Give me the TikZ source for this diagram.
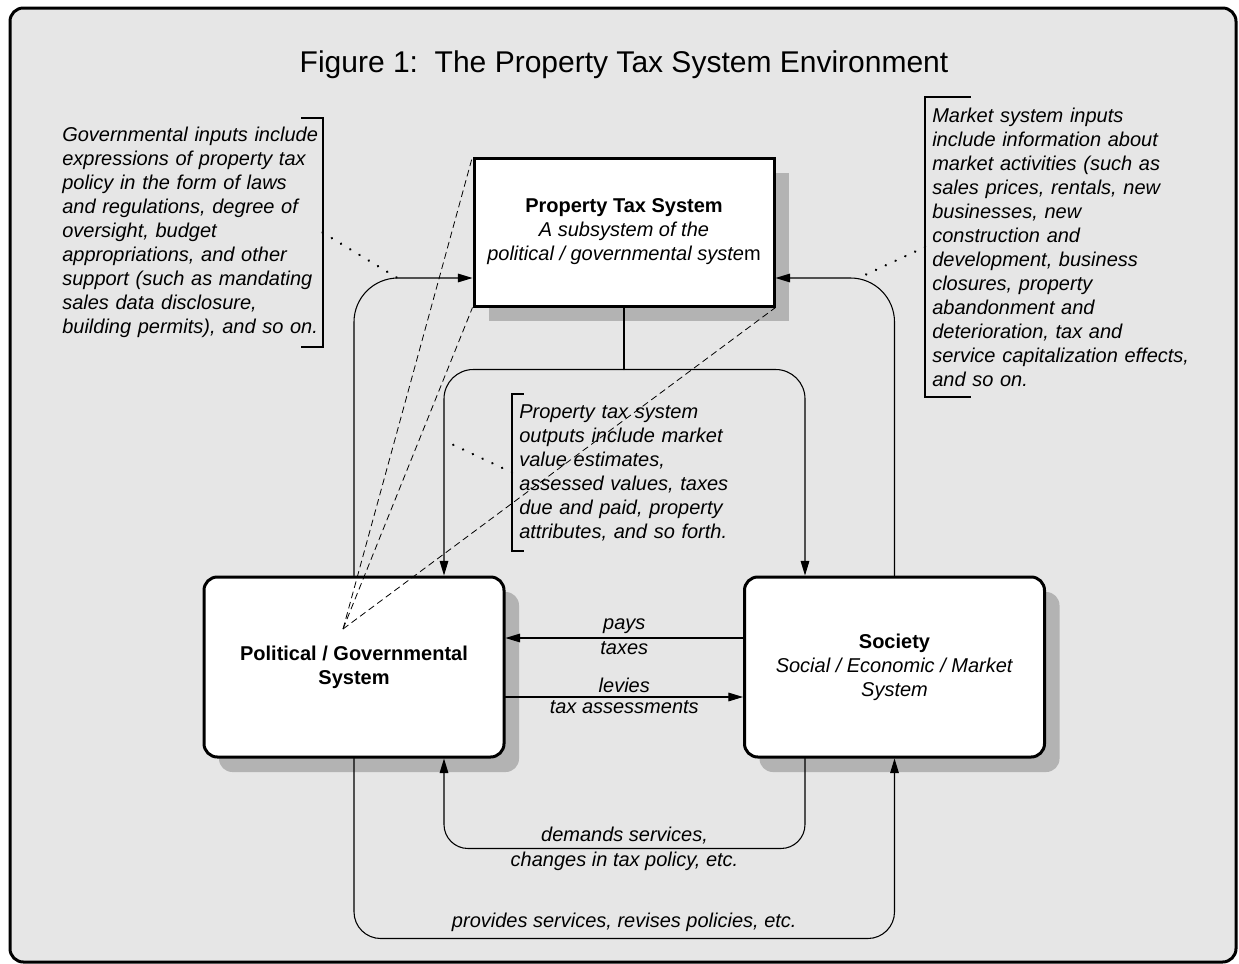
\documentclass[tikz,border=0pt]{standalone}
\usepackage{fontspec}
\setmainfont{Liberation Sans}
\usetikzlibrary{arrows.meta}
\usetikzlibrary{positioning}
\usetikzlibrary{shadows}
\usetikzlibrary{calc}
\definecolor{panelgray}{RGB}{230,230,230}
\definecolor{shadegray}{RGB}{179,179,179}

\begin{document}
\begin{tikzpicture}[x=0.75pt,y=-0.75pt,line cap=round,line join=round,
    font=\fontsize{15}{18}\selectfont,
    sysbox/.style={draw,line width=2.25pt,line join=miter,fill=white,align=center,inner sep=0pt,minimum width=225pt,
      drop shadow={shadow xshift=11.25pt,shadow yshift=-11.25pt,fill=shadegray,opacity=1}},
    flow/.style={line width=0.8pt,-{Triangle[length=11pt,width=6.5pt]}},
    link/.style={line width=0.8pt},
    note/.style={font=\fontsize{15}{18}\selectfont\itshape,align=left,inner sep=0pt},
    tag/.style={font=\fontsize{15}{18}\selectfont\itshape,inner sep=2.5pt},
    brace/.style={line width=1.5pt,line cap=rect,line join=miter},
    dots/.style={line width=1.9pt,dash pattern=on 0.1pt off 8pt},
    cone/.style={line width=0.6pt,line cap=butt,dash pattern=on 5pt off 3pt}]
\useasboundingbox (0,0) rectangle (1239,964);
\draw[line width=2.25pt,fill=panelgray,rounded corners=10pt] (10,8) rectangle (1236,962);
\node[font=\fontsize{22.5}{27}\selectfont] (title) at (624,65) {Figure 1:\ \ The Property Tax System Environment};

\node[sysbox,minimum height=111pt] (pts) at (624,232) {\textbf{Property Tax System}\\\textit{A subsystem of the}\\\textit{political / governmental syste}m};
\node[sysbox,rounded corners=10pt,minimum height=135pt] (pol) at (354,667) {\textbf{Political / Governmental}\\\textbf{System}};
\node[sysbox,rounded corners=10pt,minimum height=135pt] (soc) at (894.5,667) {\textbf{Society}\\\textit{Social / Economic / Market}\\\textit{System}};

\node[note,anchor=west,text width=192pt,inner xsep=3pt,minimum height=171.75pt] (govnote) at (58,232.5)
  {Governmental inputs include\\expressions of property tax\\policy in the form of laws\\and regulations, degree of\\oversight, budget\\appropriations, and other\\support (such as mandating\\sales data disclosure,\\building permits), and so on.};
\node[note,anchor=west,text width=205pt,inner xsep=5.25pt,minimum height=225pt] (mktnote) at (925,247)
  {Market system inputs\\include information about\\market activities (such as\\sales prices, rentals, new\\businesses, new\\construction and\\development, business\\closures, property\\abandonment and\\deterioration, tax and\\service capitalization effects,\\and so on.};
\node[note,anchor=west,text width=165pt,inner xsep=5.25pt,minimum height=117.75pt] (outnote) at (512,472.5)
  {Property tax system\\outputs include market\\value estimates,\\assessed values, taxes\\due and paid, property\\attributes, and so forth.};

\draw[brace] ([xshift=-15.75pt]govnote.north east) -- (govnote.north east) -- (govnote.south east) -- ([xshift=-15.75pt]govnote.south east);
\draw[brace] ([xshift=33.75pt]mktnote.north west) -- (mktnote.north west) -- (mktnote.south west) -- ([xshift=33.75pt]mktnote.south west);
\draw[brace] ([xshift=8.25pt]outnote.north west) -- (outnote.north west) -- (outnote.south west) -- ([xshift=8.25pt]outnote.south west);

\draw[flow,rounded corners=33pt] (pol.north) |- ($(pts.west)+(0,46)$);
\draw[flow,rounded corners=33pt] (soc.north) |- ($(pts.east)+(0,46)$);
\coordinate (split) at ($(pts.south)+(0,62)$);
\draw[link] (pts.south) -- (split);
\draw[flow,rounded corners=22pt] (split) -| ($(pol.north)+(90,0)$);
\draw[flow,rounded corners=22pt] (split) -| ($(soc.north)+(-89.5,0)$);

\draw[flow] ($(soc.west)+(0,-29)$) -- node[tag,above]{pays} node[tag,below]{taxes} ($(pol.east)+(0,-29)$);
\draw[flow] ($(pol.east)+(0,30)$) -- node[tag,above]{levies} node[tag,below]{tax assessments} ($(soc.west)+(0,30)$);
\draw[flow,rounded corners=18pt] ($(soc.south)+(-89.5,0)$) -- ++(0,90) -| node[tag,pos=0.25,align=center,font=\fontsize{15}{18.75}\selectfont\itshape]{demands services,\\changes in tax policy, etc.} ($(pol.south)+(90,0)$);
\draw[flow,rounded corners=20pt] (pol.south) -- ++(0,180) -| node[tag,pos=0.25,above=2pt]{provides services, revises policies, etc.} (soc.south);

\draw[dots] (govnote.east) -- ($(pts.west)+(-75,46)$);
\draw[dots] (mktnote.west) -- ($(pts.east)+(83,46)$);
\draw[dots] (outnote.west) -- ($(pol.north)+(90,-135)$);

\coordinate (apex) at ($(pol.center)+(-11,-38)$);
\foreach \c in {north west,south west,south east}
  \draw[cone] (apex) -- (pts.\c);
\end{tikzpicture}
\end{document}
